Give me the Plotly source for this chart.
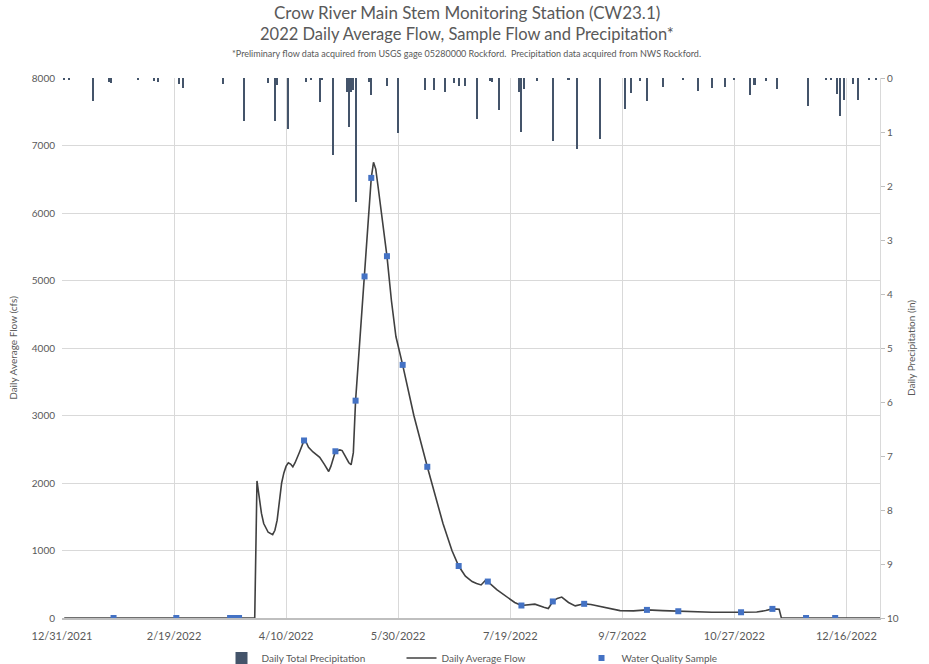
import plotly.graph_objects as go

# ---- Daily average flow (cfs) at Crow River CW23.1, 2022 ----
flow_dates = [
    "2022-01-01", "2022-03-27", "2022-03-28", "2022-03-29", "2022-03-30",
    "2022-03-31", "2022-04-02", "2022-04-04", "2022-04-05", "2022-04-06",
    "2022-04-07", "2022-04-08", "2022-04-09", "2022-04-10", "2022-04-11",
    "2022-04-12", "2022-04-13", "2022-04-14", "2022-04-16", "2022-04-18",
    "2022-04-19", "2022-04-20", "2022-04-22", "2022-04-23", "2022-04-25",
    "2022-04-27", "2022-04-29", "2022-04-30", "2022-05-01", "2022-05-02",
    "2022-05-04", "2022-05-05", "2022-05-06", "2022-05-08", "2022-05-09",
    "2022-05-10", "2022-05-11", "2022-05-13", "2022-05-15", "2022-05-17",
    "2022-05-18", "2022-05-19", "2022-05-20", "2022-05-21", "2022-05-23",
    "2022-05-25", "2022-05-27", "2022-05-29", "2022-06-01", "2022-06-06",
    "2022-06-12", "2022-06-16", "2022-06-19", "2022-06-23", "2022-06-26",
    "2022-06-29", "2022-07-02", "2022-07-04", "2022-07-06", "2022-07-08",
    "2022-07-09", "2022-07-13", "2022-07-17", "2022-07-21", "2022-07-24",
    "2022-07-27", "2022-07-30", "2022-08-03", "2022-08-05", "2022-08-07",
    "2022-08-09", "2022-08-11", "2022-08-14", "2022-08-17", "2022-08-21",
    "2022-08-24", "2022-08-28", "2022-09-01", "2022-09-06", "2022-09-12",
    "2022-09-18", "2022-09-25", "2022-10-02", "2022-10-10", "2022-10-17",
    "2022-10-30", "2022-11-06", "2022-11-10", "2022-11-13", "2022-11-16",
    "2022-11-17", "2022-11-28", "2022-12-11", "2022-12-31",
]
flow_cfs = [
    0, 0, 2030, 1750, 1550,
    1400, 1270, 1235, 1300, 1450,
    1750, 2000, 2150, 2250, 2300,
    2280, 2240, 2300, 2460, 2630,
    2600, 2530, 2460, 2430, 2380,
    2280, 2170, 2250, 2380, 2470,
    2490, 2480, 2420, 2300, 2270,
    2450, 3220, 4150, 5060, 6050,
    6520, 6750, 6650, 6400, 5900,
    5360, 4700, 4170, 3750, 3000,
    2240, 1750, 1400, 1000, 770,
    620, 540, 510, 490, 560,
    540, 420, 320, 230, 185,
    200, 205, 160, 140, 245,
    290, 310, 230, 180, 210,
    200, 170, 140, 110, 105,
    120, 110, 100, 92, 85,
    85, 88, 110, 135, 130,
    0, 0, 0, 0,
]

# ---- Water quality sample events ----
sample_dates = [
    "2022-01-23", "2022-02-20", "2022-03-16", "2022-03-18", "2022-03-20",
    "2022-04-18", "2022-05-02", "2022-05-11", "2022-05-15", "2022-05-18",
    "2022-05-25", "2022-06-01", "2022-06-12", "2022-06-26", "2022-07-09",
    "2022-07-24", "2022-08-07", "2022-08-21", "2022-09-18", "2022-10-02",
    "2022-10-30", "2022-11-13", "2022-11-28", "2022-12-11",
]
sample_cfs = [
    0, 0, 0, 0, 0,
    2630, 2470, 3220, 5060, 6520,
    5360, 3750, 2240, 770, 540,
    185, 245, 210, 120, 100,
    85, 135, 0, 0,
]

# ---- Daily total precipitation (in), NWS Rockford ----
precip_dates = [
    "2022-01-01", "2022-01-03", "2022-01-14", "2022-01-21", "2022-01-22",
    "2022-02-03", "2022-02-10", "2022-02-12", "2022-02-21", "2022-02-23",
    "2022-03-13", "2022-03-22", "2022-04-02", "2022-04-05", "2022-04-06",
    "2022-04-11", "2022-04-19", "2022-04-21", "2022-04-25", "2022-04-26",
    "2022-05-01", "2022-05-07", "2022-05-08", "2022-05-09", "2022-05-10",
    "2022-05-11", "2022-05-17", "2022-05-18", "2022-05-25", "2022-05-30",
    "2022-06-11", "2022-06-15", "2022-06-20", "2022-06-24", "2022-06-26",
    "2022-06-29", "2022-07-04", "2022-07-10", "2022-07-11", "2022-07-14",
    "2022-07-23", "2022-07-24", "2022-07-25", "2022-07-31", "2022-08-07",
    "2022-08-14", "2022-08-18", "2022-08-28", "2022-09-08", "2022-09-11",
    "2022-09-15", "2022-09-18", "2022-09-25", "2022-10-04", "2022-10-11",
    "2022-10-17", "2022-10-23", "2022-10-27", "2022-11-03", "2022-11-05",
    "2022-11-10", "2022-11-15", "2022-11-29", "2022-12-07", "2022-12-09",
    "2022-12-12", "2022-12-13", "2022-12-15", "2022-12-19", "2022-12-21",
    "2022-12-26", "2022-12-29",
]
precip_in = [
    0.03, 0.04, 0.43, 0.08, 0.10,
    0.03, 0.05, 0.07, 0.12, 0.18,
    0.12, 0.80, 0.10, 0.80, 0.13,
    0.95, 0.07, 0.04, 0.45, 0.04,
    1.42, 0.25, 0.91, 0.25, 0.23,
    2.30, 0.08, 0.32, 0.15, 1.01,
    0.23, 0.23, 0.26, 0.10, 0.14,
    0.14, 0.75, 0.05, 0.07, 0.60,
    0.25, 1.00, 0.20, 0.06, 1.17,
    0.04, 1.32, 1.13, 0.57, 0.28,
    0.06, 0.42, 0.17, 0.03, 0.24,
    0.18, 0.16, 0.03, 0.31, 0.13,
    0.05, 0.20, 0.52, 0.04, 0.04,
    0.30, 0.70, 0.40, 0.12, 0.41,
    0.03, 0.03,
]

title_lines = [
    "Crow River Main Stem Monitoring Station (CW23.1)",
    "2022 Daily Average Flow, Sample Flow and Precipitation*",
    "*Preliminary flow data acquired from USGS gage 05280000 Rockford.  "
    "Precipitation data acquired from NWS Rockford.",
]

FONT = "Lato, 'Open Sans', sans-serif"
TEXT = "#595959"
GRID = "#d9d9d9"
DAY_MS = 86400000

fig = go.Figure()

fig.add_trace(go.Bar(
    x=precip_dates, y=precip_in, yaxis="y2",
    name="Daily Total Precipitation",
    marker=dict(color="#44546a", line=dict(width=0)),
    width=DAY_MS * 0.9,
))
fig.add_trace(go.Scatter(
    x=flow_dates, y=flow_cfs, mode="lines",
    name="Daily Average Flow",
    line=dict(color="#404040", width=1.6, shape="linear"),
))
fig.add_trace(go.Scatter(
    x=sample_dates, y=sample_cfs, mode="markers",
    name="Water Quality Sample",
    marker=dict(symbol="square", size=6, color="#4472c4"),
))

fig.update_layout(
    width=929, height=664,
    margin=dict(l=62, r=49, t=78, b=46, autoexpand=False),
    paper_bgcolor="white", plot_bgcolor="white",
    font=dict(family=FONT, size=10, color=TEXT),
    showlegend=True,
    legend=dict(
        orientation="h", x=0.195, xanchor="left",
        yref="paper", y=-0.074, yanchor="middle",
        bgcolor="rgba(0,0,0,0)",
        font=dict(size=10, color=TEXT), traceorder="normal",
        itemwidth=30, entrywidth=135, entrywidthmode="pixels",
    ),
    bargap=0,
    xaxis=dict(
        type="date",
        range=["2021-12-31", "2022-12-31"],
        tick0="2021-12-31", dtick=50 * DAY_MS,
        tickformat="%-m/%-d/%Y",
        showgrid=True, gridcolor=GRID, gridwidth=1,
        showline=True, linecolor="#bfbfbf", linewidth=1.5,
        ticks="", ticklabelstandoff=7, automargin=False,
        tickfont=dict(size=11, color=TEXT),
        zeroline=False,
    ),
    yaxis=dict(
        range=[0, 8000], dtick=1000,
        showgrid=True, gridcolor=GRID, gridwidth=1,
        zeroline=False, showline=False, ticks="",
        ticklabelstandoff=6, automargin=False,
        tickfont=dict(size=10, color=TEXT),
        title=dict(text="Daily Average Flow (cfs)", font=dict(size=10, color=TEXT),
                   standoff=12),
    ),
    yaxis2=dict(
        overlaying="y", side="right",
        range=[10, 0], dtick=1,
        showgrid=False, zeroline=False,
        showline=True, linecolor=GRID, linewidth=1,
        ticks="outside", ticklen=4, tickcolor="#bfbfbf",
        tickfont=dict(size=10, color=TEXT), automargin=False,
        title=dict(text="Daily Precipitation (in)", font=dict(size=10, color=TEXT),
                   standoff=10),
    ),
)

# Three-line heading above the plot area
for text, ypos, size in zip(title_lines, [1.122, 1.081, 1.045], [17, 16.5, 9]):
    fig.add_annotation(
        text=text, xref="paper", yref="paper", x=0.495, y=ypos,
        xanchor="center", yanchor="middle", showarrow=False,
        font=dict(family=FONT, size=size, color=TEXT),
    )

fig.write_html("out.html")
